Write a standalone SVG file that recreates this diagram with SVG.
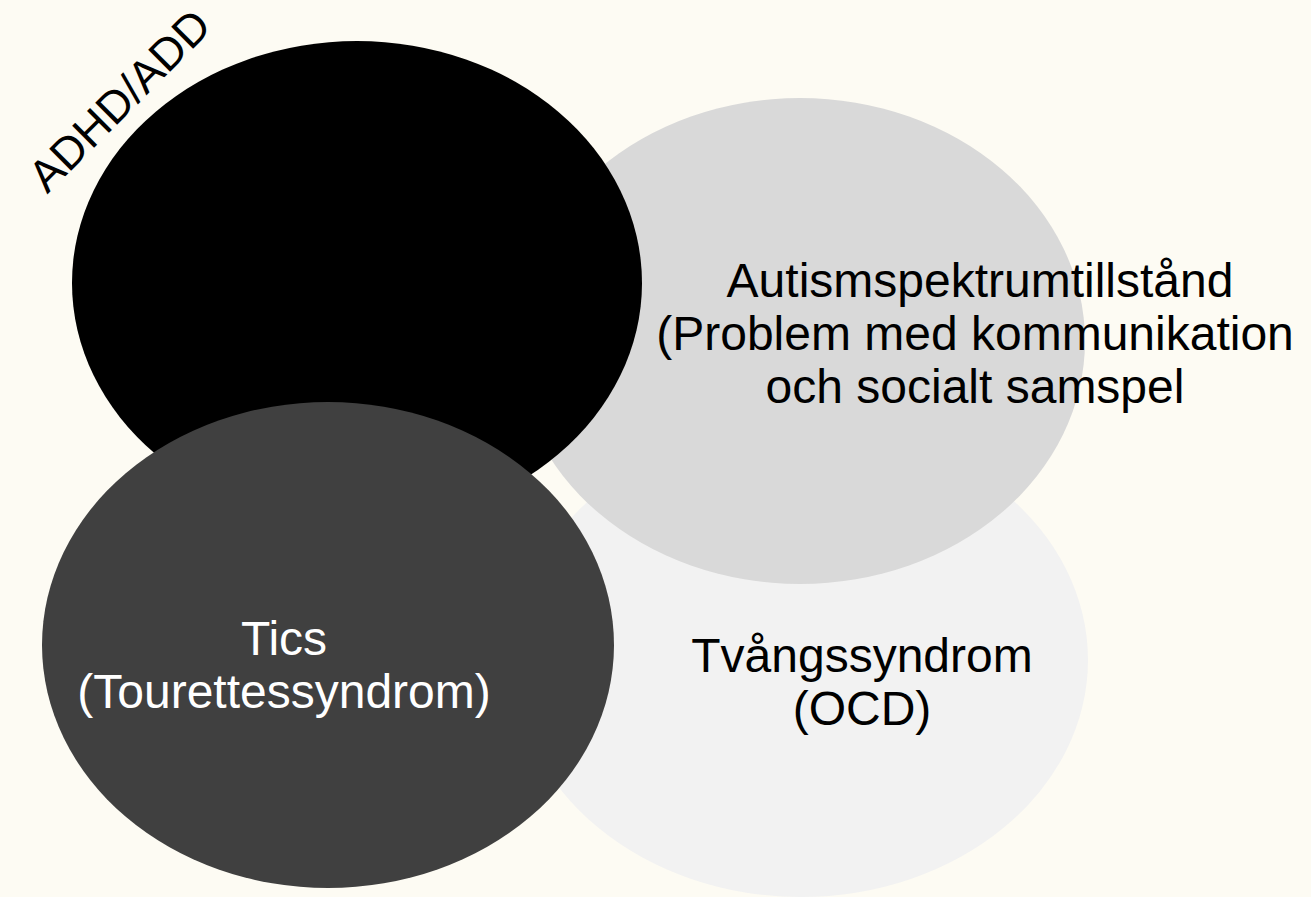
<svg xmlns="http://www.w3.org/2000/svg" width="1311" height="897" viewBox="0 0 1311 897">
<style>
text { font-family: "Liberation Sans", Arial, sans-serif; font-size: 48px; text-anchor: middle; }
.dark { fill: #000000; }
.light { fill: #ffffff; }
.rot { font-size: 45px; }
</style>
<rect x="0" y="0" width="1311" height="897" fill="#fdfbf3"/>
<g id="ocd">
<ellipse cx="801" cy="660" rx="287" ry="237" fill="#f2f2f2"/>
</g>
<g id="autism">
<ellipse cx="800" cy="341" rx="285" ry="243" fill="#d9d9d9"/>
</g>
<g id="adhd">
<ellipse cx="357" cy="283" rx="285" ry="242" fill="#000000"/>
</g>
<g id="tics">
<ellipse cx="328" cy="645" rx="286" ry="243" fill="#404040"/>
</g>
<g id="connectors"></g>
<g id="labels">
<text class="dark rot" transform="translate(119,100) rotate(-45)" y="16">ADHD/ADD</text>
<text class="dark" x="980" y="297">Autismspektrumtillstånd</text>
<text class="dark" x="975" y="350">(Problem med kommunikation</text>
<text class="dark" x="975" y="403">och socialt samspel</text>
<text class="light" x="284" y="655">Tics</text>
<text class="light" x="284" y="708">(Tourettessyndrom)</text>
<text class="dark" x="862" y="672">Tvångssyndrom</text>
<text class="dark" x="862" y="725">(OCD)</text>
</g>
</svg>
